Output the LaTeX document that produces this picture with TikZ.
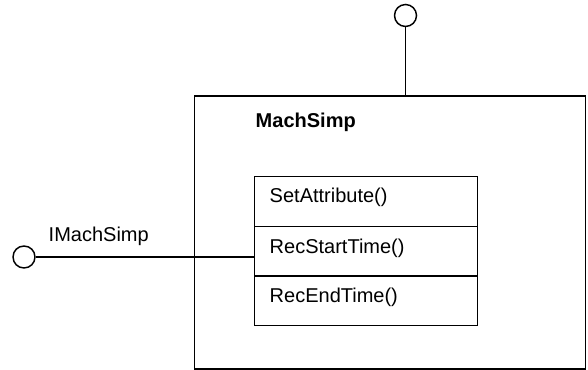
\documentclass[tikz,border=0pt]{standalone}
\usepackage{fontspec}
\setmainfont{Liberation Sans}
\usetikzlibrary{fit}
\begin{document}
\begin{tikzpicture}[x=0.75pt,y=-0.75pt,
  line width=1.1pt,
  frame/.style={draw, inner sep=0pt, rectangle},
  lollipop/.style={draw, circle, inner sep=0pt, minimum size=16.5pt},
  label/.style={anchor=base west, inner sep=0pt, font=\fontsize{15}{18}\selectfont},
  conn/.style={line width=1.1pt}]
\useasboundingbox (0,0) rectangle (588,370);

% component frame
\node[frame, fit={(194.5,96) (585.5,369)}] (comp) {};
\node[label, font=\fontsize{15}{18}\selectfont\bfseries] (cname) at (255,128) {MachSimp};

% operation compartments
\node[frame, fit={(254.6,176.7) (477.7,226.7)}] (op1) {};
\node[frame, fit={(254.6,226.7) (477.7,276)}] (op2) {};
\node[frame, fit={(254.6,276) (477.7,325.7)}] (op3) {};
\node[label] (t1) at (269,203) {SetAttribute()};
\node[label] (t2) at (269,253.3) {RecStartTime()};
\node[label] (t3) at (269,302.3) {RecEndTime()};

% provided interfaces
\node[lollipop] (itop) at (405.5,15.5) {};
\draw[conn] (itop.south) -- (itop.south |- comp.north);

\node[lollipop] (ileft) at (24,257) {};
\coordinate (joint) at (ileft.east -| op2.west);
\draw[conn] (ileft.east) -- (joint);
\node[label] (iname) at (48,241) {IMachSimp};
\end{tikzpicture}
\end{document}
